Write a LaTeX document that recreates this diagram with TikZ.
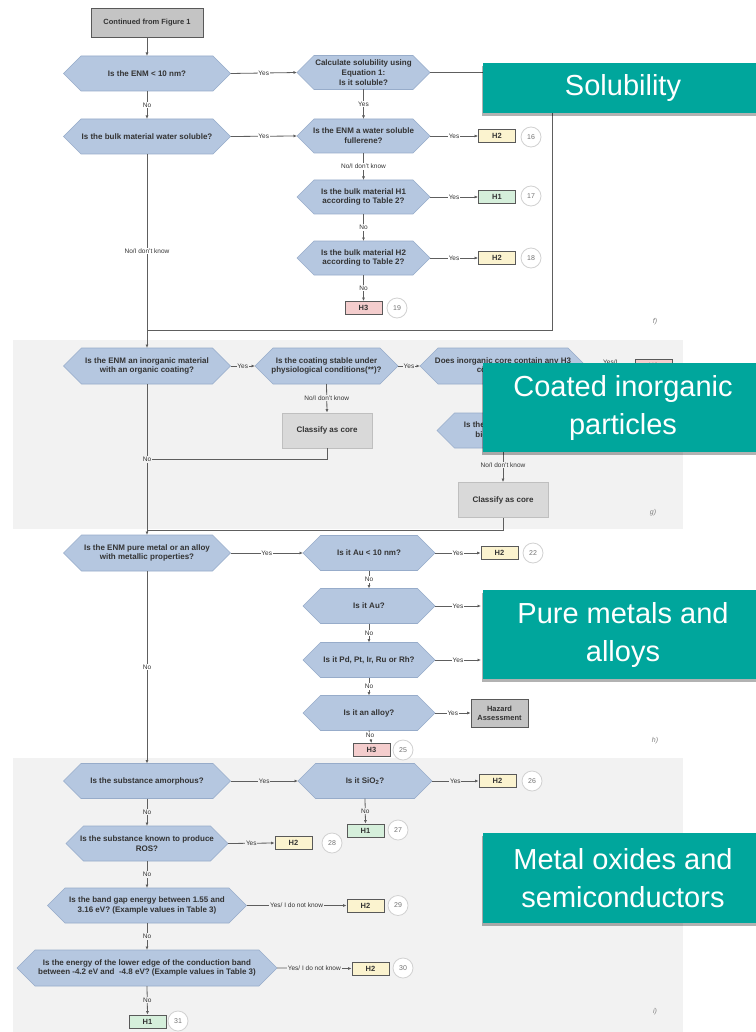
\documentclass[tikz,border=0pt]{standalone}
\usepackage{fontspec}
\setmainfont{Liberation Sans}
\usetikzlibrary{arrows.meta,shadows}

\definecolor{hexfill}{HTML}{B5C7E0}
\definecolor{hexline}{HTML}{97ACCA}
\definecolor{lnc}{HTML}{5E5E5E}
\definecolor{secbg}{HTML}{F2F2F2}
\definecolor{hyel}{HTML}{FBF3CF}
\definecolor{hgrn}{HTML}{D5EFDB}
\definecolor{hred}{HTML}{F4CDCD}
\definecolor{bannerteal}{HTML}{00A69C}

% question hexagon: name, centre x, centre y, half width, half height, text
\newcommand\qhex[6]{%
  \path[hexshape] ({#2-#4},{#3}) -- ({#2-#4+#5},{#3-#5}) -- ({#2+#4-#5},{#3-#5})
    -- ({#2+#4},{#3}) -- ({#2+#4-#5},{#3+#5}) -- ({#2-#4+#5},{#3+#5}) -- cycle;
  \node[hextext, minimum width={2*#4}, minimum height={2*#5}] (#1) at (#2,#3) {#6};
}

\tikzset{
  flow/.style={draw=lnc, line width=0.8pt, -{Latex[length=3.5pt,width=3pt]}},
  link/.style={draw=lnc, line width=0.8pt},
  lab/.style={font=\fontsize{6.5}{7.5}\selectfont, text=black!80, inner sep=0.8pt, fill=white, align=center},
  labg/.style={lab, fill=secbg},
  hexshape/.style={fill=hexfill, draw=hexline, line width=0.6pt},
  hextext/.style={font=\fontsize{8}{9.8}\selectfont\bfseries, text=black!80, align=center,
    inner sep=0pt, outer sep=0pt},
  hbox/.style={draw=black!65, line width=0.8pt, minimum width=37pt, minimum height=13pt,
    inner sep=0pt, font=\fontsize{7.5}{8}\selectfont\bfseries, text=black!80},
  hone/.style={hbox, fill=hgrn},
  htwo/.style={hbox, fill=hyel},
  hthree/.style={hbox, fill=hred},
  numc/.style={circle, draw=black!18, fill=white, line width=0.8pt, minimum size=20pt,
    inner sep=0pt, font=\fontsize{7}{8}\selectfont, text=black!55},
  greybox/.style={draw=black!65, line width=0.8pt, fill=black!23, inner sep=0pt,
    font=\fontsize{7.5}{9}\selectfont\bfseries, text=black!80, align=center},
  corebox/.style={draw=black!25, line width=0.8pt, fill=black!15, minimum width=90pt,
    minimum height=35pt, inner sep=0pt, font=\fontsize{8}{9}\selectfont\bfseries, text=black!80},
  sublab/.style={font=\fontsize{7}{8}\selectfont\itshape, text=black!50},
  banner/.style={fill=bannerteal, text=white, font=\fontsize{29}{38}\selectfont, align=center,
    inner sep=0pt, minimum width=280pt,
    drop shadow={shadow xshift=-1pt, shadow yshift=-3pt, opacity=0.3, fill=black}},
}

\begin{document}
\begin{tikzpicture}[x=1pt, y=-1pt]
\useasboundingbox (0,0) rectangle (755,1032);
\fill[white] (0,0) rectangle (755,1032);

% section backgrounds
\fill[secbg] (13,340) rectangle (683,529);
\fill[secbg] (13,758) rectangle (683,1032);

% ---------- solubility ----------
\node[greybox, minimum width=112pt, minimum height=29pt] (start) at (147,22.5) {Continued from Figure 1};
\qhex{q1}{147}{73.5}{83.5}{17.5}{Is the ENM < 10 nm?}
\qhex{calc}{363.5}{72.5}{66.5}{17}{Calculate solubility using\\Equation 1:\\Is it soluble?}
\qhex{ws}{147}{136.5}{83.5}{17.5}{Is the bulk material water soluble?}
\qhex{ful}{363.5}{136}{66.5}{17}{Is the ENM a water soluble\\fullerene?}
\qhex{bh1}{363.5}{197}{66.5}{17}{Is the bulk material H1\\according to Table 2?}
\qhex{bh2}{363.5}{258}{66.5}{17}{Is the bulk material H2\\according to Table 2?}
\node[htwo] (r16) at (497,136) {H2};
\node[numc] (n16) at (531,137) {16};
\node[hone] (r17) at (497,197) {H1};
\node[numc] (n17) at (531,196) {17};
\node[htwo] (r18) at (497,258) {H2};
\node[numc] (n18) at (531,258) {18};
\node[hthree] (r19) at (363.5,308) {H3};
\node[numc] (n19) at (397,308) {19};
\node[sublab] (lf) at (655,322) {f)};

\draw[flow] (start.south) -- (q1.north);
\draw[flow] (q1.east) -- node[lab]{Yes} (calc.west);
\draw[flow] (q1.south) -- node[lab]{No} (ws.north);
\draw[flow] (calc.south) -- node[lab]{Yes} (ful.north);
\draw[flow] (ws.east) -- node[lab]{Yes} (ful.west);
\draw[flow] (ful.east) -- node[lab]{Yes} (r16.west);
\draw[flow] (ful.south) -- node[lab]{No/I don't know} (bh1.north);
\draw[flow] (bh1.east) -- node[lab]{Yes} (r17.west);
\draw[flow] (bh1.south) -- node[lab]{No} (bh2.north);
\draw[flow] (bh2.east) -- node[lab]{Yes} (r18.west);
\draw[flow] (bh2.south) -- node[lab]{No} (r19.north);
\coordinate (jr1) at (552,330);
\coordinate (jl1) at (147,330);
\draw[link] (calc.east) -| (jr1) -- (jl1);

% ---------- coated inorganic particles ----------
\qhex{inorg}{147}{366}{83.5}{18}{Is the ENM an inorganic material\\with an organic coating?}
\qhex{coat}{326.5}{366}{71.5}{18}{Is the coating stable under\\physiological conditions(**)?}
\qhex{core}{503}{366}{83}{18}{Does inorganic core contain any H3\\components?}
\qhex{bio}{503}{430.5}{66}{17.5}{Is the inorganic core\\biopersistent?}
\node[corebox] (cls1) at (327,430.5) {Classify as core};
\node[corebox] (cls2) at (503,500) {Classify as core};
\node[hthree] (r21) at (653.5,366) {H3};
\node[sublab] (lg) at (653,513) {g)};

\draw[flow] (ws.south) -- node[lab]{No/I don't know} (inorg.north);
\draw[flow] (inorg.east) -- node[labg]{Yes} (coat.west);
\draw[flow] (coat.east) -- node[labg]{Yes} (core.west);
\draw[flow] (coat.south) -- node[labg]{No/I don't know} (cls1.north);
\draw[flow] (core.east) -- node[labg]{Yes/I\\don't know} (r21.west);
\draw[flow] (core.south) -- node[labg]{No} (bio.north);
\draw[flow] (bio.south) -- node[labg]{No/I don't know} (cls2.north);
\coordinate (jl2) at (147,459);
\coordinate (jl3) at (147,530);
\draw[link] (cls1.south) |- (jl2);
\draw[link] (cls2.south) |- (jl3);

% ---------- pure metals and alloys ----------
\qhex{metal}{147}{553}{83.5}{18}{Is the ENM pure metal or an alloy\\with metallic properties?}
\qhex{au10}{369}{553}{66}{17.5}{Is it Au < 10 nm?}
\qhex{au}{369}{606}{66}{17.5}{Is it Au?}
\qhex{pd}{369}{660}{66}{17.5}{Is it Pd, Pt, Ir, Ru or Rh?}
\qhex{alloy}{369}{713}{66}{17.5}{Is it an alloy?}
\node[htwo] (r22) at (499.5,553) {H2};
\node[numc] (n22) at (533,553) {22};
\coordinate (tAu) at (481,606);
\coordinate (tPd) at (481,660);
\node[greybox, minimum width=57pt, minimum height=28pt] (haz) at (499.5,713) {Hazard\\Assessment};
\node[hthree] (r25) at (371.5,750) {H3};
\node[numc] (n25) at (403,750) {25};
\node[sublab] (lh) at (655,741) {h)};

\draw[flow] (inorg.south) -- node[labg]{No} (metal.north);
\draw[flow] (metal.east) -- node[lab]{Yes} (au10.west);
\draw[flow] (au10.east) -- node[lab]{Yes} (r22.west);
\draw[flow] (au10.south) -- node[lab]{No} (au.north);
\draw[flow] (au.east) -- node[lab]{Yes} (tAu);
\draw[flow] (au.south) -- node[lab]{No} (pd.north);
\draw[flow] (pd.east) -- node[lab]{Yes} (tPd);
\draw[flow] (pd.south) -- node[lab]{No} (alloy.north);
\draw[flow] (alloy.east) -- node[lab]{Yes} (haz.west);
\draw[flow] (alloy.south) -- node[lab, pos=0.4]{No} (r25.north);

% ---------- metal oxides and semiconductors ----------
\qhex{amor}{147}{781}{83.5}{17.5}{Is the substance amorphous?}
\qhex{sio}{365}{781}{67}{17.5}{Is it SiO\textsubscript{2}?}
\qhex{ros}{147}{843.5}{81}{17.5}{Is the substance known to produce\\ROS?}
\qhex{band}{147}{905.5}{99.5}{17.5}{Is the band gap energy between 1.55 and\\3.16 eV? (Example values in Table 3)}
\qhex{cond}{147}{968}{130}{18}{Is the energy of the lower edge of the conduction band\\between -4.2 eV and \ -4.8 eV? (Example values in Table 3)}
\node[htwo] (r26) at (497.5,781) {H2};
\node[numc] (n26) at (532,781) {26};
\node[hone] (r27) at (365.5,830.5) {H1};
\node[numc] (n27) at (398,830) {27};
\node[htwo] (r28) at (293.5,843) {H2};
\node[numc] (n28) at (332,843) {28};
\node[htwo] (r29) at (365.5,905.5) {H2};
\node[numc] (n29) at (398,905.5) {29};
\node[htwo] (r30) at (370.5,968.5) {H2};
\node[numc] (n30) at (403,968) {30};
\node[hone] (r31) at (147.5,1021.5) {H1};
\node[numc] (n31) at (178,1021) {31};
\node[sublab] (li) at (655,1012) {i)};

\draw[flow] (metal.south) -- node[lab]{No} (amor.north);
\draw[flow] (amor.east) -- node[labg]{Yes} (sio.west);
\draw[flow] (sio.east) -- node[labg]{Yes} (r26.west);
\draw[flow] (sio.south) -- node[labg]{No} (r27.north);
\draw[flow] (amor.south) -- node[labg]{No} (ros.north);
\draw[flow] (ros.east) -- node[labg]{Yes} (r28.west);
\draw[flow] (ros.south) -- node[labg]{No} (band.north);
\draw[flow] (band.east) -- node[labg]{Yes/ I do not know} (r29.west);
\draw[flow] (band.south) -- node[labg]{No} (cond.north);
\draw[flow] (cond.east) -- node[labg]{Yes/ I do not know} (r30.west);
\draw[flow] (cond.south) -- node[labg]{No} (r31.north);

% ---------- section banners ----------
\node[banner, minimum height=50pt] (bSol) at (623,88) {Solubility};
\node[banner, minimum height=89pt] (bCoat) at (623,407.5) {Coated inorganic\\particles};
\node[banner, minimum height=89pt] (bMet) at (623,634.5) {Pure metals and\\alloys};
\node[banner, minimum height=90pt] (bOx) at (623,878) {Metal oxides and\\semiconductors};
\end{tikzpicture}
\end{document}
